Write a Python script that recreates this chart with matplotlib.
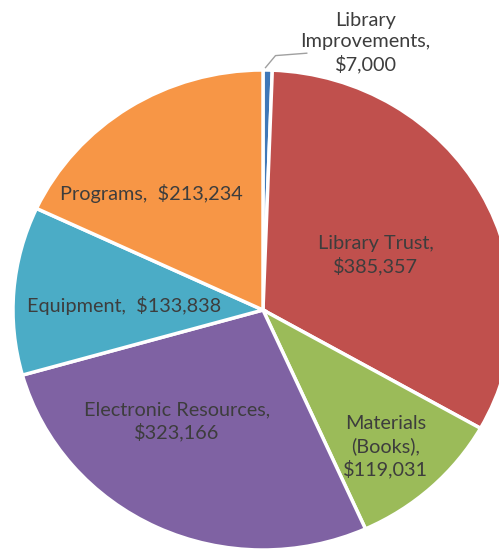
import matplotlib
matplotlib.use("Agg")
import matplotlib.pyplot as plt

# Budget categories, clockwise from 12 o'clock
categories = ["Library Improvements", "Library Trust", "Materials (Books)",
              "Electronic Resources", "Equipment", "Programs"]
amounts = [7000, 385357, 119031, 323166, 133838, 213234]
colors = ["#3F78B8", "#C0504D", "#9BBB59", "#7F62A3", "#4BACC6", "#F79646"]

# label text for each slice
labels = [
    "Library\nImprovements,\n${:,}",
    "Library Trust,\n${:,}",
    "Materials\n(Books),\n${:,}",
    "Electronic Resources,\n${:,}",
    "Equipment,  ${:,}",
    "Programs,  ${:,}",
]
# label centers in axes data units (pie radius = 1)
label_pos = [(0.41, 1.115), (0.45, 0.23), (0.49, -0.57),
             (-0.345, -0.465), (-0.555, 0.02), (-0.445, 0.485)]

plt.rcParams["font.family"] = ["Lato", "DejaVu Sans"]

W, H = 499, 550
fig = plt.figure(figsize=(W / 100, H / 100), dpi=100)
cx, cy, rx, ry = 263, 310, 250, 240
ax = fig.add_axes([(cx - rx) / W, (H - cy - ry) / H, 2 * rx / W, 2 * ry / H])

wedges, _ = ax.pie(amounts, colors=colors, startangle=90, counterclock=False,
                   radius=1.0,
                   wedgeprops=dict(edgecolor="white", linewidth=2.5))
for w in wedges:
    w.set_clip_on(False)

ax.set_xlim(-1, 1)
ax.set_ylim(-1, 1)
ax.set_aspect("auto")
ax.axis("off")

for i, (lab, (x, y)) in enumerate(zip(labels, label_pos)):
    ax.text(x, y, lab.format(amounts[i]), ha="center", va="center",
            fontsize=14.3, color="#3d3d3d", linespacing=1.3, clip_on=False)

# leader line for the thin slice
ax.plot([0.01, 0.05, 0.175], [1.01, 1.06, 1.07], color="#a0a0a0",
        lw=1.0, clip_on=False)

fig.savefig("out.png", dpi=100)
